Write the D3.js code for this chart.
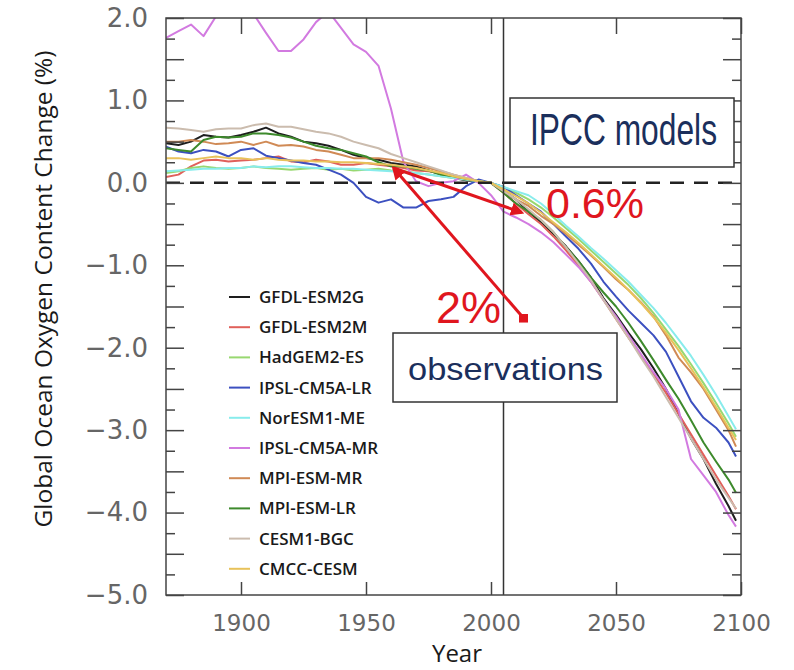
<!DOCTYPE html>
<html>
<head>
<meta charset="utf-8">
<script src="https://cdn.jsdelivr.net/npm/d3@7"></script>
<style>
  body { margin: 0; background: #fff; }
  svg { display: block; }
</style>
</head>
<body>
<div id="chart"></div>
<script>
// years sampled along every model run
var years = [1870, 1875, 1880, 1885, 1890, 1895, 1900, 1905, 1910, 1915, 1920, 1925, 1930, 1935, 1940, 1945,
  1950, 1955, 1960, 1965, 1970, 1975, 1980, 1985, 1990, 1995, 2000, 2005, 2010, 2015, 2020, 2025, 2030, 2035,
  2040, 2045, 2050, 2055, 2060, 2065, 2070, 2075, 2080, 2085, 2090, 2095, 2098];

var modelNames = ["GFDL-ESM2G", "GFDL-ESM2M", "HadGEM2-ES", "IPSL-CM5A-LR", "NorESM1-ME",
  "IPSL-CM5A-MR", "MPI-ESM-MR", "MPI-ESM-LR", "CESM1-BGC", "CMCC-CESM"];

var gfdlEsm2g = [0.48, 0.46, 0.50, 0.58, 0.56, 0.55, 0.58, 0.62, 0.67, 0.60, 0.56, 0.50, 0.48, 0.45, 0.40, 0.34,
  0.30, 0.28, 0.24, 0.22, 0.20, 0.15, 0.10, 0.06, 0.03, 0.02, 0.00, -0.10, -0.20, -0.35, -0.48, -0.62, -0.77, -0.95,
  -1.15, -1.40, -1.60, -1.82, -2.02, -2.25, -2.50, -2.80, -3.10, -3.35, -3.65, -3.92, -4.10];
var gfdlEsm2m = [0.07, 0.10, 0.20, 0.27, 0.28, 0.26, 0.27, 0.28, 0.30, 0.32, 0.26, 0.25, 0.28, 0.26, 0.22, 0.22,
  0.24, 0.22, 0.20, 0.18, 0.15, 0.14, 0.12, 0.08, 0.05, 0.02, 0.00, -0.12, -0.25, -0.38, -0.50, -0.65, -0.82, -1.00,
  -1.20, -1.42, -1.65, -1.88, -2.10, -2.32, -2.55, -2.80, -3.05, -3.30, -3.55, -3.80, -3.96];
var hadGem2Es = [0.12, 0.14, 0.18, 0.20, 0.18, 0.17, 0.18, 0.20, 0.18, 0.17, 0.16, 0.17, 0.18, 0.16, 0.17, 0.15,
  0.16, 0.17, 0.15, 0.14, 0.12, 0.10, 0.08, 0.06, 0.04, 0.02, 0.00, -0.05, -0.12, -0.20, -0.30, -0.42, -0.55, -0.68,
  -0.82, -0.96, -1.10, -1.24, -1.40, -1.58, -1.78, -1.98, -2.20, -2.43, -2.67, -2.92, -3.08];
var ipslCm5aLr = [0.44, 0.38, 0.36, 0.40, 0.38, 0.32, 0.40, 0.42, 0.33, 0.30, 0.27, 0.24, 0.22, 0.16, 0.10, 0.00,
  -0.17, -0.24, -0.20, -0.30, -0.30, -0.22, -0.20, -0.17, -0.04, 0.04, 0.00, -0.05, -0.15, -0.25, -0.35, -0.50, -0.65, -0.80,
  -0.98, -1.20, -1.38, -1.55, -1.70, -1.85, -2.05, -2.35, -2.65, -2.85, -2.97, -3.15, -3.32];
var norEsm1Me = [0.14, 0.15, 0.16, 0.17, 0.17, 0.18, 0.18, 0.20, 0.19, 0.20, 0.20, 0.19, 0.18, 0.18, 0.17, 0.17,
  0.16, 0.15, 0.14, 0.13, 0.12, 0.10, 0.08, 0.06, 0.04, 0.02, 0.00, -0.05, -0.10, -0.15, -0.25, -0.38, -0.52, -0.65,
  -0.79, -0.92, -1.06, -1.20, -1.36, -1.52, -1.70, -1.90, -2.10, -2.33, -2.57, -2.83, -2.99];
var ipslCm5aMr = [1.76, 1.84, 1.92, 1.78, 2.02, 2.15, 2.20, 2.05, 1.82, 1.60, 1.60, 1.74, 1.95, 2.08, 1.88, 1.68,
  1.59, 1.42, 0.90, 0.25, 0.02, -0.04, 0.00, 0.02, 0.10, 0.00, -0.15, -0.35, -0.42, -0.50, -0.60, -0.72, -0.87, -1.02,
  -1.20, -1.42, -1.62, -1.85, -2.08, -2.30, -2.50, -2.75, -3.35, -3.55, -3.75, -4.03, -4.17];
var mpiEsmMr = [0.50, 0.50, 0.52, 0.50, 0.47, 0.48, 0.50, 0.46, 0.50, 0.45, 0.46, 0.44, 0.40, 0.38, 0.34, 0.30,
  0.30, 0.30, 0.28, 0.25, 0.22, 0.18, 0.14, 0.10, 0.06, 0.02, 0.00, -0.10, -0.20, -0.28, -0.40, -0.50, -0.62, -0.75,
  -0.88, -1.02, -1.17, -1.30, -1.45, -1.62, -1.85, -2.12, -2.30, -2.50, -2.75, -3.00, -3.20];
var mpiEsmLr = [0.42, 0.40, 0.38, 0.52, 0.56, 0.55, 0.56, 0.60, 0.60, 0.58, 0.55, 0.50, 0.45, 0.42, 0.40, 0.36,
  0.32, 0.25, 0.20, 0.20, 0.17, 0.15, 0.10, 0.08, 0.05, 0.02, 0.00, -0.12, -0.25, -0.35, -0.45, -0.60, -0.78, -0.95,
  -1.15, -1.33, -1.50, -1.70, -1.92, -2.15, -2.39, -2.62, -2.88, -3.15, -3.38, -3.60, -3.76];
var cesm1Bgc = [0.67, 0.66, 0.64, 0.62, 0.65, 0.66, 0.66, 0.70, 0.72, 0.68, 0.68, 0.65, 0.62, 0.60, 0.56, 0.50,
  0.46, 0.42, 0.35, 0.30, 0.25, 0.20, 0.15, 0.10, 0.06, 0.02, 0.00, -0.10, -0.20, -0.32, -0.45, -0.60, -0.78, -0.98,
  -1.18, -1.42, -1.65, -1.88, -2.12, -2.35, -2.60, -2.85, -3.10, -3.35, -3.60, -3.82, -3.95];
var cmccCesm = [0.30, 0.30, 0.28, 0.30, 0.32, 0.30, 0.30, 0.28, 0.30, 0.28, 0.27, 0.27, 0.26, 0.26, 0.25, 0.25,
  0.24, 0.23, 0.22, 0.20, 0.18, 0.15, 0.12, 0.08, 0.05, 0.02, 0.00, -0.08, -0.16, -0.25, -0.36, -0.48, -0.60, -0.73,
  -0.87, -1.01, -1.15, -1.30, -1.46, -1.63, -1.82, -2.03, -2.25, -2.48, -2.72, -2.97, -3.12];

var modelValues = [gfdlEsm2g, gfdlEsm2m, hadGem2Es, ipslCm5aLr, norEsm1Me, ipslCm5aMr, mpiEsmMr, mpiEsmLr, cesm1Bgc, cmccCesm];
var modelColors = ["#1e1e1e", "#e0605a", "#98d870", "#3c50c0", "#88ecec", "#d27ae0", "#d08a55", "#3d8a2c", "#cbbcae", "#e8c25a"];

var yTicks = [-5, -4, -3, -2, -1, 0, 1, 2];
var xTicks = [1900, 1950, 2000, 2050, 2100];

// annotation points: [year, value]
var arrowStart = [1961, 0.18];
var arrowShort = [2012.3, -0.36];
var arrowLong = [2013, -1.64];
var splitYear = 2005;

var width = 794, height = 670;
var plot = { left: 166, right: 741, top: 18, bottom: 595 };

var svg = d3.select("#chart").append("svg")
  .attr("width", width)
  .attr("height", height);

var x = d3.scaleLinear().domain([1870, 2100]).range([plot.left, plot.right]);
var y = d3.scaleLinear().domain([-5, 2]).range([plot.bottom, plot.top]);

drawModels();
drawZeroLine();
drawAxes();
drawLegend();
drawBoxes();
drawArrows();

function drawModels() {
  svg.append("clipPath").attr("id", "plotClip")
    .append("rect")
    .attr("x", plot.left).attr("y", plot.top)
    .attr("width", plot.right - plot.left).attr("height", plot.bottom - plot.top);

  var line = d3.line()
    .x(function(d, i) { return x(years[i]); })
    .y(function(d) { return y(d); });

  svg.append("g").attr("clip-path", "url(#plotClip)")
    .selectAll("path")
    .data(modelValues)
    .enter()
    .append("path")
    .attr("d", line)
    .attr("fill", "none")
    .attr("stroke", function(d, i) { return modelColors[i]; })
    .attr("stroke-width", 2)
    .attr("stroke-linejoin", "round");
}

function drawZeroLine() {
  svg.append("line")
    .attr("x1", plot.left).attr("x2", plot.right)
    .attr("y1", y(0)).attr("y2", y(0))
    .attr("stroke", "#222")
    .attr("stroke-width", 2.5)
    .attr("stroke-dasharray", "14,10");

  svg.append("line")
    .attr("x1", x(splitYear)).attr("x2", x(splitYear))
    .attr("y1", plot.top).attr("y2", plot.bottom)
    .attr("stroke", "#333")
    .attr("stroke-width", 1.5);
}

function drawAxes() {
  var majorY = d3.range(-5, 2.01, 0.5);
  var minorY = d3.range(-4.75, 2, 0.5);
  var fmt = d3.format(".1f");

  var left = svg.append("g")
    .attr("transform", "translate(" + plot.left + ",0)")
    .call(d3.axisLeft(y).tickValues(majorY).tickSize(-18).tickPadding(18)
      .tickFormat(function(d) { return yTicks.indexOf(d) >= 0 ? fmt(d) : ""; }));
  svg.append("g")
    .attr("transform", "translate(" + plot.left + ",0)")
    .call(d3.axisLeft(y).tickValues(minorY).tickSize(-9).tickFormat(""));
  svg.append("g")
    .attr("transform", "translate(" + plot.right + ",0)")
    .call(d3.axisRight(y).tickValues(majorY).tickSize(-18).tickFormat(""));
  svg.append("g")
    .attr("transform", "translate(" + plot.right + ",0)")
    .call(d3.axisRight(y).tickValues(minorY).tickSize(-9).tickFormat(""));

  var bottom = svg.append("g")
    .attr("transform", "translate(0," + plot.bottom + ")")
    .call(d3.axisBottom(x).tickValues(xTicks).tickSize(-13).tickPadding(20).tickFormat(d3.format("d")));
  svg.append("g")
    .attr("transform", "translate(0," + plot.top + ")")
    .call(d3.axisTop(x).tickValues(xTicks).tickSize(-16).tickFormat(""));

  svg.selectAll(".domain").remove();
  svg.selectAll(".tick line").attr("stroke", "#444").attr("stroke-width", 1.5);

  left.selectAll("text")
    .attr("font-family", "DejaVu Sans")
    .attr("font-size", 26)
    .attr("fill", "#666");
  bottom.selectAll("text")
    .attr("font-family", "DejaVu Sans")
    .attr("font-size", 23)
    .attr("fill", "#666");

  svg.append("rect")
    .attr("x", plot.left).attr("y", plot.top)
    .attr("width", plot.right - plot.left).attr("height", plot.bottom - plot.top)
    .attr("fill", "none")
    .attr("stroke", "#444")
    .attr("stroke-width", 1.5);

  svg.append("text")
    .attr("transform", "translate(52,289) rotate(-90)")
    .attr("text-anchor", "middle")
    .attr("font-family", "Open Sans")
    .attr("font-size", 24.5)
    .attr("font-weight", 500)
    .attr("fill", "#1a1a1a")
    .text("Global Ocean Oxygen Content Change (%)");

  svg.append("text")
    .attr("x", 457).attr("y", 662)
    .attr("text-anchor", "middle")
    .attr("font-family", "Open Sans")
    .attr("font-size", 24)
    .attr("font-weight", 500)
    .attr("fill", "#1a1a1a")
    .text("Year");
}

function drawLegend() {
  var rows = svg.append("g").selectAll("g")
    .data(modelNames)
    .enter()
    .append("g")
    .attr("transform", function(d, i) { return "translate(229," + (297 + i * 30.2) + ")"; });

  rows.append("line")
    .attr("x1", 0).attr("x2", 21)
    .attr("stroke", function(d, i) { return modelColors[i]; })
    .attr("stroke-width", 2);

  rows.append("text")
    .attr("x", 30)
    .attr("dy", "0.35em")
    .attr("font-family", "Open Sans")
    .attr("font-size", 17)
    .attr("font-weight", 600)
    .attr("fill", "#1a1a1a")
    .text(function(d) { return d; });
}

function drawBoxes() {
  svg.append("rect")
    .attr("x", 510).attr("y", 98).attr("width", 224).attr("height", 69)
    .attr("fill", "#fff").attr("stroke", "#333").attr("stroke-width", 1.5);
  svg.append("text")
    .attr("x", 530).attr("y", 145)
    .attr("font-family", "Liberation Sans")
    .attr("font-size", 44)
    .attr("textLength", 187)
    .attr("lengthAdjust", "spacingAndGlyphs")
    .attr("fill", "#1b2f5c")
    .text("IPCC models");

  svg.append("rect")
    .attr("x", 393).attr("y", 333).attr("width", 224).attr("height", 69)
    .attr("fill", "#fff").attr("stroke", "#333").attr("stroke-width", 1.5);
  svg.append("text")
    .attr("x", 408).attr("y", 380)
    .attr("font-family", "Liberation Sans")
    .attr("font-size", 32)
    .attr("textLength", 195)
    .attr("lengthAdjust", "spacingAndGlyphs")
    .attr("fill", "#1b2f5c")
    .text("observations");
}

function drawArrows() {
  var red = "#e0161e";
  var defs = svg.append("defs");
  defs.append("marker")
    .attr("id", "head")
    .attr("viewBox", "0 0 10 10")
    .attr("refX", 8).attr("refY", 5)
    .attr("markerWidth", 4.5).attr("markerHeight", 4.5)
    .attr("markerUnits", "strokeWidth")
    .attr("orient", "auto")
    .append("path")
    .attr("d", "M0,0 L10,5 L0,10 Z")
    .attr("fill", red);
  defs.append("marker")
    .attr("id", "square")
    .attr("viewBox", "0 0 10 10")
    .attr("refX", 5).attr("refY", 5)
    .attr("markerWidth", 3).attr("markerHeight", 3)
    .attr("markerUnits", "strokeWidth")
    .append("rect")
    .attr("width", 10).attr("height", 10)
    .attr("fill", red);

  svg.append("line")
    .attr("x1", x(arrowStart[0])).attr("y1", y(arrowStart[1]))
    .attr("x2", x(arrowShort[0])).attr("y2", y(arrowShort[1]))
    .attr("stroke", red).attr("stroke-width", 3)
    .attr("marker-end", "url(#head)");
  svg.append("line")
    .attr("x1", x(arrowLong[0])).attr("y1", y(arrowLong[1]))
    .attr("x2", x(arrowStart[0])).attr("y2", y(arrowStart[1]))
    .attr("stroke", red).attr("stroke-width", 3)
    .attr("marker-start", "url(#square)")
    .attr("marker-end", "url(#head)");

  svg.append("text")
    .attr("x", 546).attr("y", 218)
    .attr("font-family", "Liberation Sans")
    .attr("font-size", 43)
    .attr("fill", red)
    .text("0.6%");
  svg.append("text")
    .attr("x", 436).attr("y", 323)
    .attr("font-family", "Liberation Sans")
    .attr("font-size", 45)
    .attr("fill", red)
    .text("2%");
}
</script>
</body>
</html>
